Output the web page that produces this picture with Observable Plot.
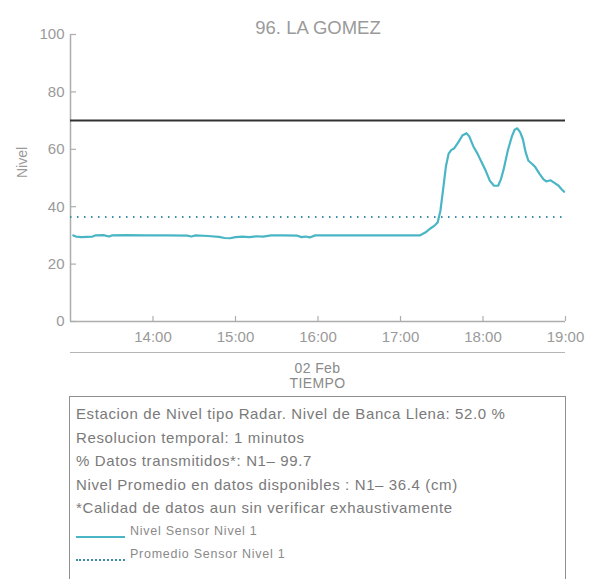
<!DOCTYPE html>
<html>
<head>
<meta charset="utf-8">
<script src="https://cdn.jsdelivr.net/npm/d3@7"></script>
<script src="https://cdn.jsdelivr.net/npm/@observablehq/plot@0.6"></script>
<style>
  html, body { margin: 0; padding: 0; width: 592px; height: 579px; overflow: hidden; background: #fff; font-family: "Liberation Sans", Arial, sans-serif; }
  #chart { position: absolute; left: 0; top: 0; }
  #sep { position: absolute; left: 70px; top: 352px; width: 495px; height: 0; border-top: 1.5px solid #b5b5b5; }
  #date, #tiempo { position: absolute; left: 70px; width: 495px; text-align: center; color: #8a8a8a; font-size: 14px; line-height: 14px; letter-spacing: 0.4px; }
  #box { position: absolute; left: 69px; top: 396px; width: 495px; height: 220px; border: 1.5px solid #8f8f8f; }
  .info { position: absolute; left: 6px; color: #7a7a7a; font-size: 15px; line-height: 16px; letter-spacing: 0.62px; white-space: nowrap; }
  .leg { position: absolute; left: 60px; color: #8a8a8a; font-size: 12.5px; line-height: 13px; letter-spacing: 0.75px; white-space: nowrap; }
  .legline { position: absolute; left: 6px; width: 49px; height: 0; }
</style>
</head>
<body>
<div id="chart"></div>
<div id="sep"></div>
<div id="date" style="top:361px"></div>
<div id="tiempo" style="top:376px"></div>
<div id="box"></div>
<script>
// ---- data ----
const title = "96. LA GOMEZ";
const day = "2023-02-02";
const times = ["13:02","13:04","13:08","13:12","13:16","13:18","13:24","13:28","13:30","13:40","13:55","14:10","14:25","14:28","14:31","14:40","14:48","14:52","14:56","15:00","15:05","15:10","15:15","15:20","15:26","15:35","15:45","15:48","15:51","15:54","15:58","16:15","16:45","17:00","17:14","17:18","17:22","17:25","17:27","17:29","17:31","17:33","17:35","17:37","17:39","17:42","17:45","17:48","17:50","17:53","17:56","17:59","18:02","18:05","18:08","18:11","18:13","18:15","18:18","18:21","18:23","18:25","18:27","18:29","18:31","18:33","18:36","18:38","18:41","18:44","18:46","18:49","18:52","18:55","18:57","18:59"];
const levels = [30.0,29.6,29.4,29.5,29.6,30.0,30.1,29.6,30.0,30.1,30.0,30.0,29.9,29.6,30.0,29.8,29.5,29.1,29.0,29.4,29.6,29.4,29.7,29.6,30.0,30.0,29.9,29.4,29.6,29.3,30.0,30.0,30.0,30.0,30.0,31.0,32.5,33.5,34.5,38.5,46.0,54.0,58.5,59.8,60.3,62.4,64.8,65.6,64.5,61.0,58.5,55.5,52.5,49.0,47.3,47.3,49.5,53.0,59.5,64.5,66.8,67.3,66.0,63.5,59.0,56.0,54.8,53.8,51.5,49.5,48.8,49.2,48.3,47.3,46.2,45.2];
const bankFull = 70;
const meanLevel = 36.4;
const yTicks = [0, 20, 40, 60, 80, 100];
const xTickHours = ["14:00","15:00","16:00","17:00","18:00","19:00"];
const xDomain = ["13:00","19:00"];
const yLabel = "Nivel";
const dateLabel = "02 Feb";
const xLabel = "TIEMPO";
const infoLines = [
  "Estacion de Nivel tipo Radar. Nivel de Banca Llena: 52.0 %",
  "Resolucion temporal: 1 minutos",
  "% Datos transmitidos*: N1\u2013 99.7",
  "Nivel Promedio en datos disponibles : N1\u2013 36.4 (cm)",
  "*Calidad de datos aun sin verificar exhaustivamente"
];
const legendLabels = ["Nivel Sensor Nivel 1", "Promedio Sensor Nivel 1"];

// ---- build ----
const lineColor = "#4ab6c5";
const meanColor = "#3d8fa8";
const gray = "#9a9a9a";
const axisGray = "#adadad";
const parse = t => new Date(`${day}T${t}:00`);
const series = times.map((t, i) => ({t: parse(t), v: levels[i]}));
const xd = xDomain.map(parse);
const xt = xTickHours.map(parse);
// inward tick lengths expressed in data units (px / scale factor)
const yTickEnd = new Date(+xd[0] + (6 / 495) * (xd[1] - xd[0]));
const xTickTop = 5 / 287 * 100;

const chart = Plot.plot({
  width: 592,
  height: 350,
  marginLeft: 70,
  marginRight: 27,
  marginTop: 34,
  marginBottom: 29,
  style: {fontFamily: "Liberation Sans, Arial, sans-serif", background: "transparent"},
  x: {type: "time", domain: xd},
  y: {domain: [0, 100]},
  marks: [
    Plot.axisY({ticks: yTicks, tickSize: 0, tickPadding: 6, fontSize: 15, color: gray, label: null}),
    Plot.axisX({ticks: xt, tickFormat: d3.timeFormat("%H:%M"), tickSize: 0, tickPadding: 10, fontSize: 15, color: gray, label: null}),
    Plot.ruleY(yTicks, {x1: xd[0], x2: yTickEnd, stroke: axisGray, strokeWidth: 1.2}),
    Plot.ruleX(xt, {y1: 0, y2: xTickTop, stroke: axisGray, strokeWidth: 1.2}),
    Plot.ruleX([xd[0]], {y1: 0, y2: 100, stroke: axisGray, strokeWidth: 1.5}),
    Plot.ruleY([0], {stroke: axisGray, strokeWidth: 1.5}),
    Plot.ruleY([bankFull], {stroke: "#333", strokeWidth: 2}),
    Plot.ruleY([meanLevel], {stroke: meanColor, strokeWidth: 2, strokeDasharray: "1.5,5.5"}),
    Plot.line(series, {x: "t", y: "v", stroke: lineColor, strokeWidth: 2.2}),
    Plot.text([title], {frameAnchor: "top", dy: -14, fontSize: 18.5, fill: gray}),
    Plot.text([yLabel], {frameAnchor: "left", dx: -48, rotate: -90, fontSize: 14, fill: gray})
  ]
});
document.getElementById("chart").appendChild(chart);
document.getElementById("date").textContent = dateLabel;
document.getElementById("tiempo").textContent = xLabel;

const box = document.getElementById("box");
infoLines.forEach((s, i) => {
  const d = document.createElement("div");
  d.className = "info";
  d.style.top = (9 + i * 23.6) + "px";
  d.textContent = s;
  box.appendChild(d);
});
const legTops = [128, 151];
legendLabels.forEach((s, i) => {
  const l = document.createElement("div");
  l.className = "legline";
  l.style.top = (legTops[i] + 11) + "px";
  l.style.borderTop = i === 0 ? `2px solid ${lineColor}` : `2px dotted ${meanColor}`;
  box.appendChild(l);
  const d = document.createElement("div");
  d.className = "leg";
  d.style.top = legTops[i] + "px";
  d.textContent = s;
  box.appendChild(d);
});
</script>
</body>
</html>
